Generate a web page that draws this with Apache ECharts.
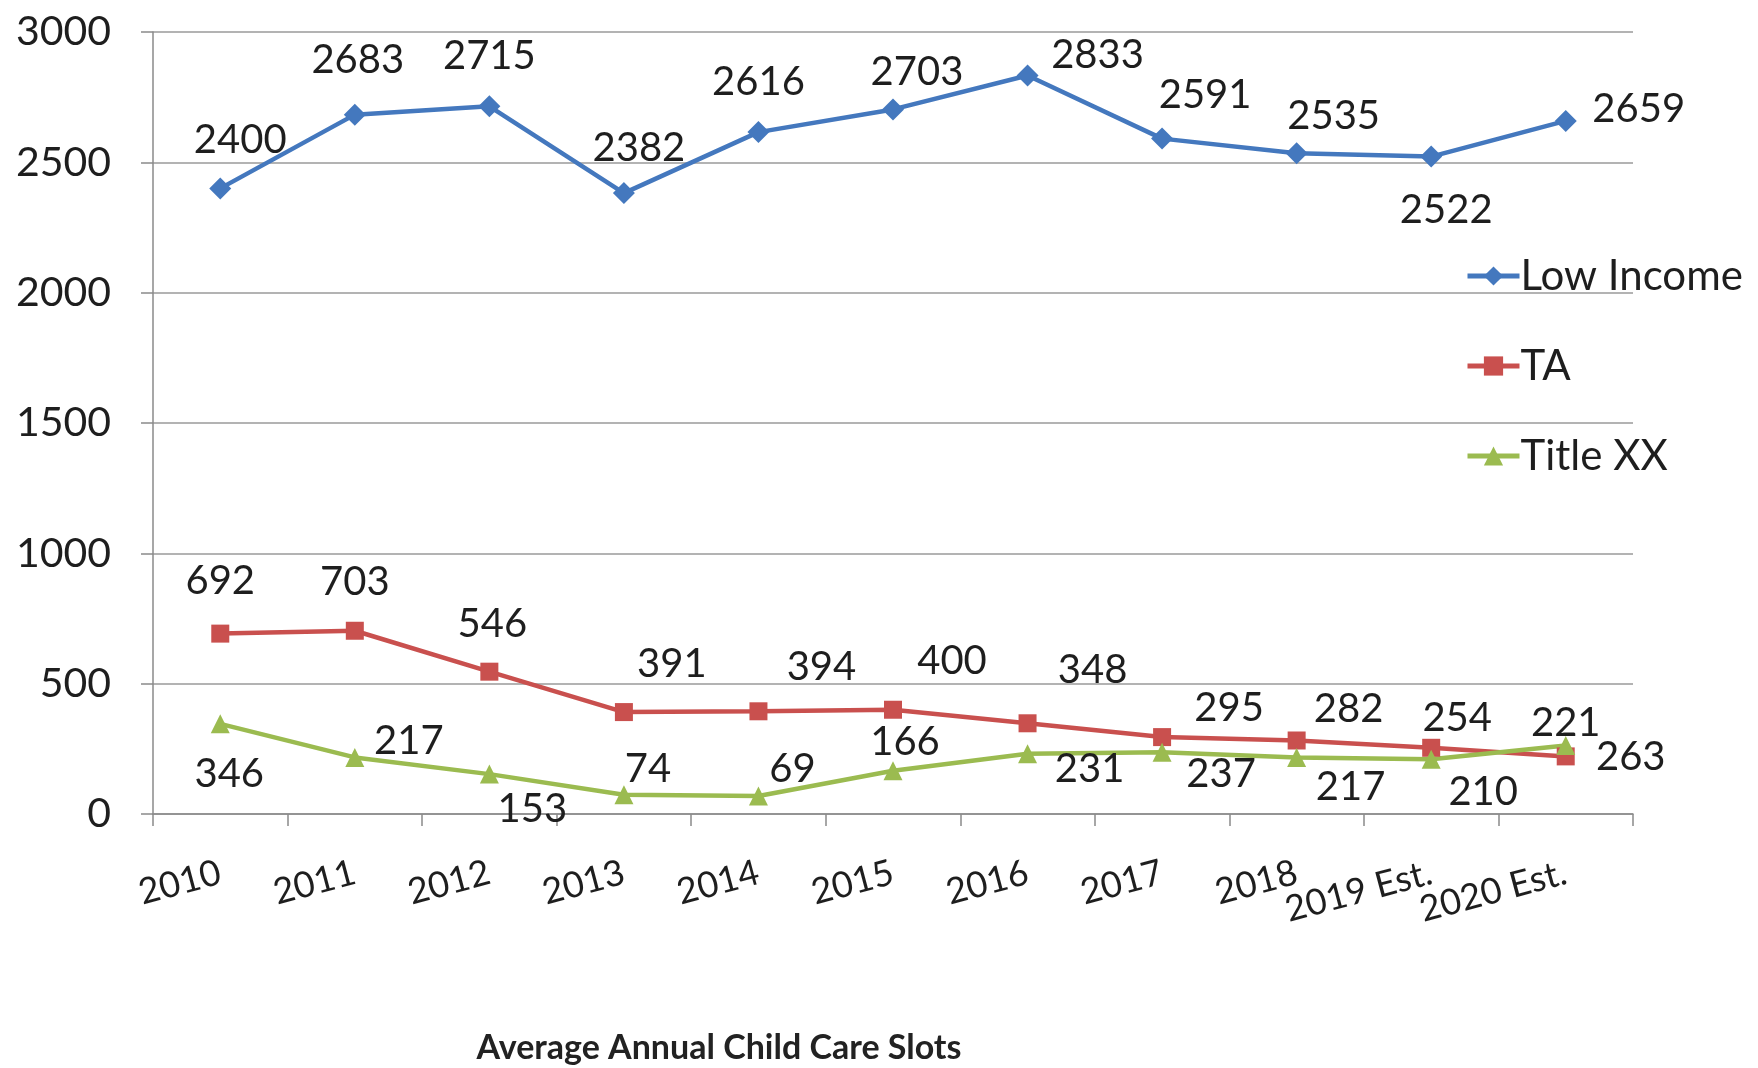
<!DOCTYPE html>
<html>
<head>
<meta charset="utf-8">
<script src="https://cdn.jsdelivr.net/npm/echarts@6/dist/echarts.min.js"></script>
<style>
html,body{margin:0;padding:0;background:#fff;}
#chart{width:1758px;height:1068px;}
</style>
</head>
<body>
<div id="chart"></div>
<script>
// ---- data ----
const categories = ['2010','2011','2012','2013','2014','2015','2016','2017','2018','2019 Est.','2020 Est.'];
const lowIncome = [2400, 2683, 2715, 2382, 2616, 2703, 2833, 2591, 2535, 2522, 2659];
const ta        = [692, 703, 546, 391, 394, 400, 348, 295, 282, 254, 221];
const titleXX   = [346, 217, 153, 74, 69, 166, 231, 237, 217, 210, 263];
const yTicks = [0, 500, 1000, 1500, 2000, 2500, 3000];
const chartTitle = 'Average Annual Child Care Slots';

// ---- label placement (px offsets of label centre from the point) ----
const lowIncomeLabelOffsets = [[20,-48],[3,-55],[0,-50],[15,-45],[0,-50],[24,-37],[70,-20],[43,-44],[37,-37],[15,53],[73,-12]];
const taLabelOffsets        = [[0,-53],[0,-49],[3,-48],[48,-48],[63,-44],[59,-49],[65,-53],[67,-29],[52,-31],[26,-30],[0,-33]];
const titleXXLabelOffsets   = [[9,50],[54,-16],[43,35],[24,-26],[34,-27],[12,-29],[62,15],[59,22],[54,30],[52,33],[65,12]];

const FONT = 'Lato';
const TXT = '#1e1e1e';

function buildData(values, offsets){
  return values.map((v,i)=>({
    value: v,
    label: {show:true, position:'inside', offset: offsets[i]}
  }));
}

function makeSeries(name, values, offsets, color, symbol, size){
  return {
    name: name,
    type: 'line',
    data: buildData(values, offsets),
    symbol: symbol,
    symbolSize: size,
    lineStyle: {color: color, width: 4.5},
    itemStyle: {color: color},
    label: {
      show: true,
      fontFamily: FONT,
      fontSize: 40,
      color: TXT,
      align: 'center',
      verticalAlign: 'middle'
    },
    emphasis: {disabled: true},
    animation: false
  };
}

const chart = echarts.init(document.getElementById('chart'), null, {renderer:'canvas'});
chart.setOption({
  backgroundColor: '#ffffff',
  animation: false,
  title: {
    text: chartTitle,
    left: 714,
    top: 1025,
    textAlign: 'center',
    textStyle: {fontFamily: FONT, fontWeight: 'bold', fontSize: 34, color: '#222', lineHeight: 36}
  },
  legend: {
    orient: 'vertical',
    left: 1460,
    top: 249,
    itemWidth: 52,
    itemHeight: 24,
    itemGap: 46,
    lineStyle: {width: 5},
    textStyle: {fontFamily: FONT, fontSize: 42, color: TXT, lineHeight: 44, padding:[0,0,0,-4]},
    data: ['Low Income','TA','Title XX']
  },
  grid: {left: 153, right: 125, top: 32, bottom: 254, containLabel: false},
  xAxis: {
    type: 'category',
    data: categories,
    boundaryGap: true,
    axisLine: {show: true, lineStyle: {color: '#8a8a8a', width: 1.5}},
    axisTick: {show: true, length: 12, lineStyle: {color: '#8a8a8a', width: 1.5}},
    axisLabel: {
      rotate: 15,
      margin: 58,
      fontFamily: FONT,
      fontSize: 36,
      color: TXT,
      interval: 0
    },
    splitLine: {show: false}
  },
  yAxis: {
    type: 'value',
    min: yTicks[0],
    max: yTicks[yTicks.length-1],
    interval: yTicks[1]-yTicks[0],
    axisLine: {show: true, lineStyle: {color: '#8a8a8a', width: 1.5}},
    axisTick: {show: true, length: 12, lineStyle: {color: '#8a8a8a', width: 1.5}},
    axisLabel: {margin: 42, fontFamily: FONT, fontSize: 41, color: TXT, formatter: v => String(v)},
    splitLine: {show: true, lineStyle: {color: '#9a9a9a', width: 1.5}}
  },
  series: [
    makeSeries('Low Income', lowIncome, lowIncomeLabelOffsets, '#4478BE', 'diamond', 22),
    makeSeries('TA', ta, taLabelOffsets, '#C9504E', 'rect', 18),
    makeSeries('Title XX', titleXX, titleXXLabelOffsets, '#9BBB50', 'triangle', 19)
  ]
});
</script>
</body>
</html>
